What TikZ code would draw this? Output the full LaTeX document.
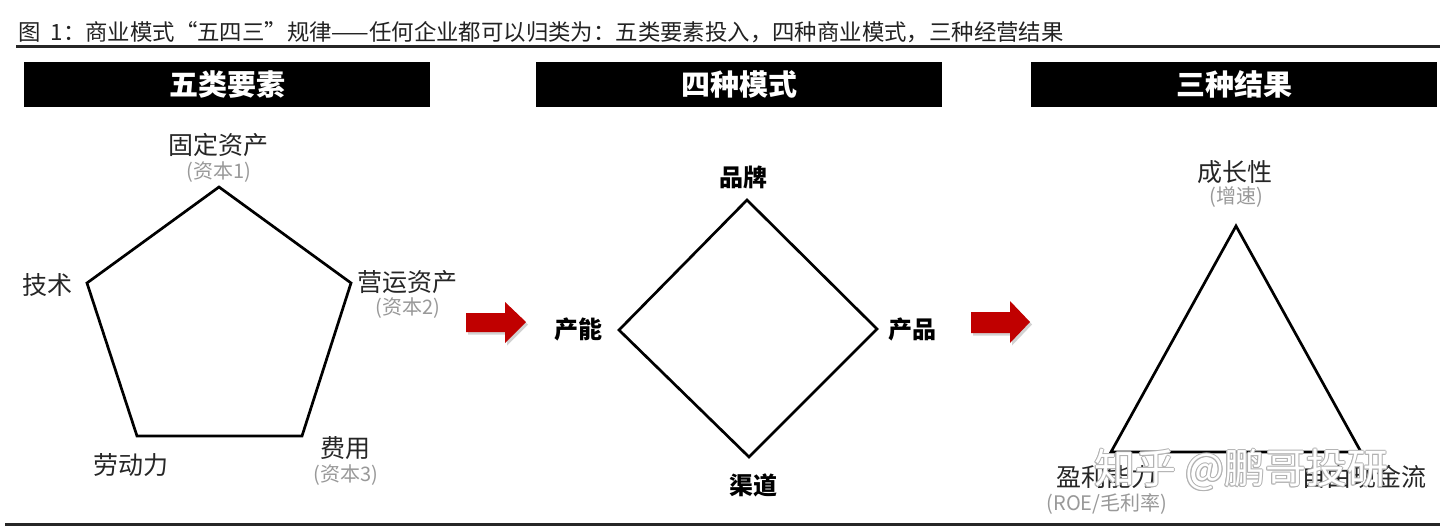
\documentclass[tikz,border=0pt]{standalone}
\usepackage{fontspec}
\setmainfont{Noto Sans CJK SC}
\usetikzlibrary{shadows}
\definecolor{arrowred}{HTML}{C00000}
\definecolor{subgray}{HTML}{999999}
\definecolor{titlegray}{HTML}{222222}
\tikzset{
  headbar/.style={fill=black, draw=none},
  headtext/.style={text=white, font=\fontsize{29}{34}\selectfont\bfseries, inner sep=0pt},
  lbl/.style={text=black!85, font=\fontsize{25}{30}\selectfont, inner sep=0pt},
  blbl/.style={text=black, font=\fontsize{24}{29}\selectfont\bfseries, inner sep=0pt},
  sublbl/.style={text=subgray, font=\fontsize{20}{24}\selectfont, inner sep=0pt},
  shapeline/.style={draw=black, line width=2.7pt, line join=miter},
  redarrow/.style={fill=arrowred, draw=none, drop shadow={shadow xshift=2pt, shadow yshift=-2.5pt, opacity=0.35, fill=gray}},
  wmark/.style={font=\fontsize{41}{46}\selectfont, inner sep=0pt},
}
\begin{document}
\begin{tikzpicture}[x=1pt,y=-1pt]
\useasboundingbox[fill=white] (0,0) rectangle (1440,531);
% title
\node[anchor=west, inner sep=0pt, text=titlegray, font=\fontsize{22.4}{26}\selectfont] (title) at (18,32) {图\hspace{10pt}1：商业模式“五四三”规律——任何企业都可以归类为：五类要素投入，四种商业模式，三种经营结果};
\draw[line width=3pt, black!85] (16,46) -- (1440,46);
\draw[line width=3pt, black!85] (5,524) -- (1440,524);
% header bars
\path[headbar] (24,62) rectangle (430,107);
\node[headtext] (h1) at (227,84.5) {五类要素};
\path[headbar] (536,62) rectangle (942,107);
\node[headtext] (h2) at (739,84.5) {四种模式};
\path[headbar] (1031,62) rectangle (1437,107);
\node[headtext] (h3) at (1234,84.5) {三种结果};
% pentagon
\coordinate (p1) at (219,187);
\coordinate (p2) at (351,283);
\coordinate (p3) at (302,436);
\coordinate (p4) at (137,436);
\coordinate (p5) at (87,283);
\draw[shapeline] (p1) -- (p2) -- (p3) -- (p4) -- (p5) -- cycle;
\node[lbl] (gd) at (218,145) {固定资产};
\node[sublbl] (gd2) at (219,172) {(资本1)};
\node[lbl] (js) at (47,285) {技术};
\node[lbl] (yy) at (407,282) {营运资产};
\node[sublbl] (yy2) at (408,308) {(资本2)};
\node[lbl] (ld) at (131,465) {劳动力};
\node[lbl] (fy) at (345,448) {费用};
\node[sublbl] (fy2) at (346,475) {(资本3)};
% arrows
\path[redarrow] (466,313) -- (505,313) -- (505,302) -- (526,322) -- (505,343) -- (505,332) -- (466,332) -- cycle;
\path[redarrow] (971,312) -- (1010,312) -- (1010,301) -- (1030,322) -- (1010,343) -- (1010,333) -- (971,333) -- cycle;
% diamond
\coordinate (d1) at (747,200);
\coordinate (d2) at (877,329);
\coordinate (d3) at (749,457);
\coordinate (d4) at (619,330);
\draw[shapeline] (d1) -- (d2) -- (d3) -- (d4) -- cycle;
\node[blbl] (pp) at (743,177) {品牌};
\node[blbl] (cn) at (578,329) {产能};
\node[blbl] (cp) at (912,329) {产品};
\node[blbl] (qd) at (753,485) {渠道};
% triangle
\coordinate (t1) at (1236,226);
\coordinate (t2) at (1361,452);
\coordinate (t3) at (1111,452);
\draw[shapeline] (t1) -- (t2) -- (t3) -- cycle;
\node[lbl] (cz) at (1235,172) {成长性};
\node[sublbl] (cz2) at (1236,197) {(增速)};
\node[lbl] (yl) at (1106,477) {盈利能力};
\node[sublbl] (yl2) at (1107,504) {(ROE/毛利率)};
\node[lbl] (zy) at (1364,477) {自由现金流};
% watermark
\foreach \dx/\dy in {-1/0,1/0,0/-1,0/1,-0.7/-0.7,0.7/0.7,-0.7/0.7,0.7/-0.7}{
  \node[wmark, text=black!30, anchor=west] at (1094+\dx,470+\dy) {知乎 @鹏哥投研};
}
\node[wmark, text=white, anchor=west] (wm) at (1094,470) {知乎 @鹏哥投研};
\end{tikzpicture}
\end{document}
